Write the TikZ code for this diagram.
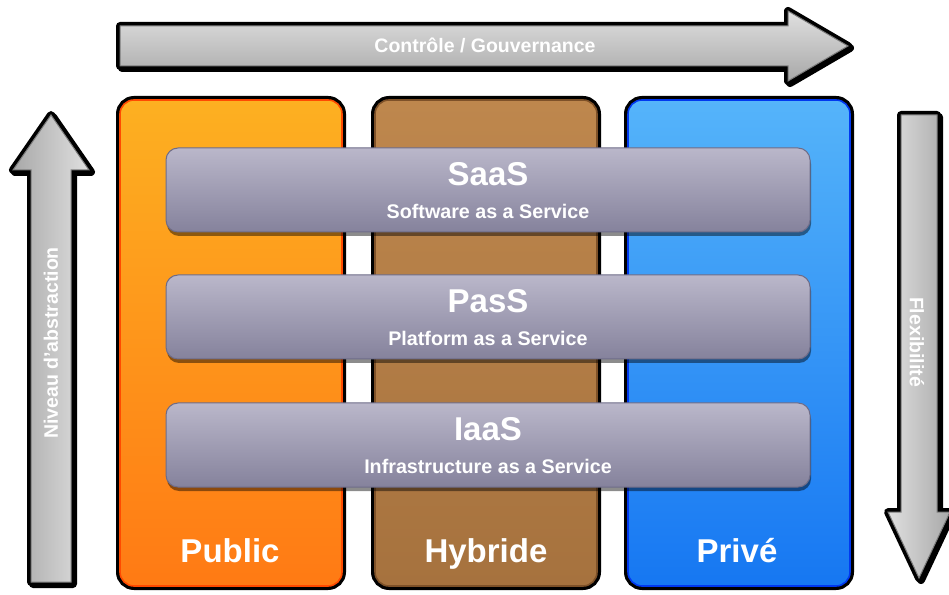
\documentclass[tikz,border=0pt]{standalone}
\usepackage{fontspec}
\setmainfont{Liberation Sans}
\usetikzlibrary{positioning,shadows}
\definecolor{orangetop}{HTML}{FDB021}
\definecolor{orangebot}{HTML}{FF7A14}
\definecolor{orangeedge}{HTML}{FF4A00}
\definecolor{browntop}{HTML}{BE874D}
\definecolor{brownbot}{HTML}{A6723E}
\definecolor{brownedge}{HTML}{7E5128}
\definecolor{bluetop}{HTML}{55B4FA}
\definecolor{bluebot}{HTML}{1677F2}
\definecolor{blueedge}{HTML}{0038F0}
\definecolor{layertop}{HTML}{BAB7CA}
\definecolor{layerbot}{HTML}{85829C}
\definecolor{layeredge}{HTML}{6E6C88}
\definecolor{arrowlight}{HTML}{E0E0E0}
\definecolor{arrowdark}{HTML}{A8A8A8}
\definecolor{arrowedge}{HTML}{7A7A7A}
\begin{document}
\begin{tikzpicture}[x=1pt,y=1pt,
	column/.style={rounded corners=14pt, minimum width=222pt, minimum height=486pt,
		preaction={draw=black, line width=8pt}, line width=1.6pt},
	layer/.style={rounded corners=12pt, minimum width=644pt, minimum height=84pt,
		draw=layeredge, line width=1pt, top color=layertop, bottom color=layerbot,
		drop shadow={shadow xshift=1pt, shadow yshift=-4pt, opacity=.45, fill=black}},
	colname/.style={anchor=base, text=white, font=\bfseries\fontsize{33}{36}\selectfont},
	ltitle/.style={anchor=base, text=white, font=\bfseries\fontsize{33}{36}\selectfont},
	lsub/.style={anchor=base, text=white, font=\bfseries\fontsize{19.7}{21}\selectfont},
	arrowtext/.style={text=white, font=\bfseries\fontsize{19.5}{21}\selectfont},
	bigarrow/.style={draw=arrowedge, line width=1pt, line join=miter,
		preaction={draw=black, line width=8pt, line join=round},
		preaction={draw=black, line width=8pt, line join=round, transform canvas={shift={(2pt,-2pt)}}}}]
	\useasboundingbox (0,0) rectangle (949,594);

	\draw[bigarrow, top color=arrowlight, bottom color=arrowdark]
		(120,568) -- (788,568) -- (788,583) -- (848,548) -- (788,513) -- (788,528) -- (120,528) -- cycle;
	\node[arrowtext] (control) at (485,549) {Contrôle / Gouvernance};

	\draw[bigarrow, left color=arrowdark, right color=arrowlight]
		(31,12) -- (31,424) -- (13,424) -- (51,479) -- (89,424) -- (71,424) -- (71,12) -- cycle;
	\node[arrowtext, rotate=90] (abstraction) at (51,251) {Niveau d'abstraction};

	\draw[bigarrow, left color=arrowlight, right color=arrowdark]
		(901,479) -- (901,82) -- (888,82) -- (919,16) -- (950,82) -- (937,82) -- (937,479) -- cycle;
	\node[arrowtext, rotate=-90] (flex) at (917,252) {Flexibilité};

	\node[column, draw=orangeedge, top color=orangetop, bottom color=orangebot] (public) at (231,251) {};
	\node[column, draw=brownedge, top color=browntop, bottom color=brownbot] (hybride) at (486,251) {};
	\node[column, draw=blueedge, top color=bluetop, bottom color=bluebot] (prive) at (739,251) {};

	\node[colname] (publicl) at (230,32) {Public};
	\node[colname] (hybridel) at (486,32) {Hybride};
	\node[colname] (privel) at (737,32) {Privé};

	\node[layer] (saas) at (488,404) {};
	\node[layer] (pass) at (488,277) {};
	\node[layer] (iaas) at (488,149) {};

	\node[ltitle] (saast) at ([yshift=-38pt]saas.north) {SaaS};
	\node[lsub] (saass) at ([yshift=-71pt]saas.north) {Software as a Service};
	\node[ltitle] (passt) at ([yshift=-38pt]pass.north) {PasS};
	\node[lsub] (passs) at ([yshift=-71pt]pass.north) {Platform as a Service};
	\node[ltitle] (iaast) at ([yshift=-38pt]iaas.north) {IaaS};
	\node[lsub] (iaass) at ([yshift=-71pt]iaas.north) {Infrastructure as a Service};
\end{tikzpicture}
\end{document}
